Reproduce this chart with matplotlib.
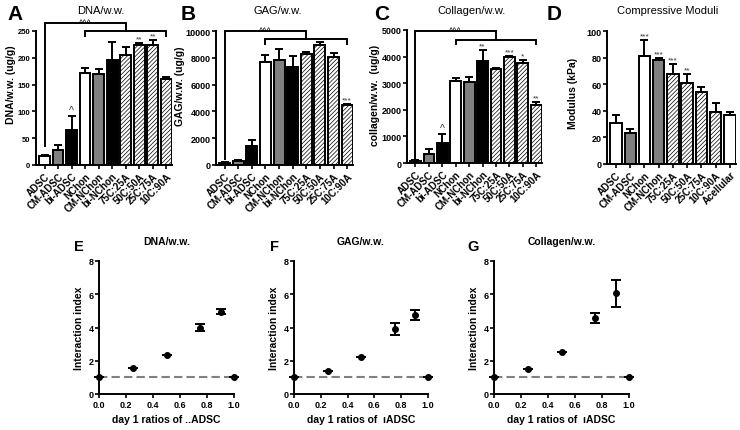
import matplotlib
matplotlib.use('Agg')
import matplotlib.pyplot as plt
import numpy as np

plt.rcParams['font.family'] = ['Liberation Sans', 'DejaVu Sans']
plt.rcParams['hatch.linewidth'] = 0.5
plt.rcParams['hatch.color'] = '#222222'

# ---------------- data ----------------
groups_abc = ['ADSC', 'CM-ADSC', 'bi-ADSC', 'NChon', 'CM-NChon', 'bi-NChon',
              '75C:25A', '50C:50A', '25C:75A', '10C:90A']
dna_mean = [17, 28, 66, 172, 170, 195, 206, 223, 223, 160]
dna_err = [1.5, 10, 26, 9, 9, 34, 14, 5, 10, 5]
dna_sig = ['', '', '^', '', '', '', '', '**', '**', '']

gag_mean = [150, 300, 1450, 7700, 7850, 7300, 8250, 8950, 8050, 4450]
gag_err = [40, 100, 450, 500, 800, 800, 150, 200, 300, 100]
gag_sig = ['', '', '', '', '', '', '', '', '', '***']

col_mean = [80, 320, 750, 3070, 3060, 3830, 3530, 3980, 3750, 2180]
col_err = [20, 220, 350, 120, 160, 400, 60, 40, 110, 120]
col_sig = ['', '', '^', '', '', '**', '', '***', '*', '**']

groups_d = ['ADSC', 'CM-ADSC', 'NChon', 'CM-NChon', '75C:25A', '50C:50A',
            '25C:75A', '10C:90A', 'Acellular']
mod_mean = [31, 23, 81, 78, 68, 61, 54, 39, 37]
mod_err = [6, 3, 12, 1.5, 7, 7, 4, 7, 2]
mod_sig = ['', '', '***', '***', '***', '**', '', '', '']

ratio_x = [0.0, 0.25, 0.5, 0.75, 0.9, 1.0]
dna_ii = [1.0, 1.55, 2.35, 4.0, 4.95, 1.0]
dna_ii_err = [0, 0, 0, 0.2, 0.15, 0]
gag_ii = [1.0, 1.4, 2.25, 3.9, 4.75, 1.0]
gag_ii_err = [0, 0, 0, 0.35, 0.3, 0]
col_ii = [1.0, 1.5, 2.55, 4.6, 6.05, 1.0]
col_ii_err = [0, 0, 0, 0.3, 0.8, 0]

W, H = 740, 431
fig = plt.figure(figsize=(W / 100, H / 100), dpi=100)


def add_ax(x0, y0, x1, y1):
    return fig.add_axes([x0 / W, 1 - y1 / H, (x1 - x0) / W, (y1 - y0) / H])


def ftext(x, y, s, **kw):
    fig.text(x / W, 1 - y / H, s, **kw)


def style_for(name):
    if name.startswith('CM-'):
        return dict(color='#808080', hatch=None)
    if name.startswith('bi-'):
        return dict(color='black', hatch=None)
    if 'C:' in name:
        return dict(color='white', hatch='////////')
    return dict(color='white', hatch=None)


def style_axes(ax, labelsize=6.5):
    for s in ['top', 'right']:
        ax.spines[s].set_visible(False)
    for s in ['left', 'bottom']:
        ax.spines[s].set_linewidth(1.4)
    ax.tick_params(width=1.2, length=3, labelsize=labelsize, pad=1)
    for lab in ax.get_yticklabels() + ax.get_xticklabels():
        lab.set_fontweight('bold')


def bar_panel(ax, names, mean, err, sig, ymax, yticks, ysize=6.5):
    x = np.arange(len(names))
    for i, n in enumerate(names):
        st = style_for(n)
        ax.bar(x[i], mean[i], width=0.8, color=st['color'], edgecolor='black',
               linewidth=1.4, hatch=st['hatch'], zorder=2)
    ax.errorbar(x, mean, yerr=[np.zeros(len(err)), err], fmt='none',
                ecolor='black', elinewidth=1.4, capsize=3, capthick=1.4, zorder=3)
    for i, s in enumerate(sig):
        if s:
            ax.text(x[i], mean[i] + err[i] + ymax * 0.005, s, ha='center', va='bottom',
                    fontsize=6 if s != '^' else 7.5, color='#333333', zorder=4)
    ax.set_xlim(-0.63, len(names) - 0.57)
    ax.set_ylim(0, ymax)
    ax.set_yticks(yticks)
    ax.set_xticks(x)
    ax.set_xticklabels(names, rotation=45, ha='right', rotation_mode='anchor')
    style_axes(ax, labelsize=ysize)
    for lab in ax.get_xticklabels():
        lab.set_fontsize(7)


def brackets(ax, top_y, left_end, low_y, low_leg, txt_y):
    kw = dict(color='black', lw=1.4, clip_on=False, zorder=5, solid_joinstyle='miter')
    ax.plot([0, 0, 6, 6], [left_end, top_y, top_y, low_y], **kw)
    ax.plot([3, 3, 9, 9], [low_leg, low_y, low_y, low_leg], **kw)
    ax.text(3, txt_y, '^^^', ha='center', va='baseline', fontsize=6.5, clip_on=False)


axA = add_ax(36, 32, 172, 166)
bar_panel(axA, groups_abc, dna_mean, dna_err, dna_sig, 250, [0, 50, 100, 150, 200, 250],
          ysize=5.5)
brackets(axA, 265, 35, 250, 241, 261)

axB = add_ax(216, 32, 353, 166)
bar_panel(axB, groups_abc, gag_mean, gag_err, gag_sig, 10000,
          [0, 2000, 4000, 6000, 8000, 10000])
brackets(axB, 10000, 450, 9400, 9030, 9850)

axC = add_ax(407, 31, 542, 164)
bar_panel(axC, groups_abc, col_mean, col_err, col_sig, 5000,
          [0, 1000, 2000, 3000, 4000, 5000])
brackets(axC, 4950, 150, 4635, 4470, 4880)

axD = add_ax(607, 32, 736, 165)
bar_panel(axD, groups_d, mod_mean, mod_err, mod_sig, 100, [0, 20, 40, 60, 80, 100])

# y labels of top panels
for x, y, s in [(11, 85, 'DNA/w.w. (ug/g)'), (180, 86, 'GAG/w.w. (ug/g)'),
                (375, 95, 'collagen/w.w.  (ug/g)'), (573, 93, 'Modulus (kPa)')]:
    ftext(x, y, s, fontsize=7.5, fontweight='bold', rotation=90, ha='center', va='center')

# top panel letters and titles
for x, s in [(7, 'A'), (181, 'B'), (374, 'C'), (547, 'D')]:
    ftext(x, 15, s, fontsize=15, fontweight='bold', va='center', ha='left')
for x, s in [(101, 'DNA/w.w.'), (278, 'GAG/w.w.'), (472, 'Collagen/w.w.'),
             (668, 'Compressive Moduli')]:
    ftext(x, 11, s, fontsize=8, ha='center', va='center')


def ii_panel(ax, yv, ye, title, xlabel):
    ax.plot([0, 1], [1, 1], color='#808080', lw=1.5, ls=(0, (4, 2)), zorder=1)
    ax.errorbar(ratio_x, yv, yerr=ye, fmt='o', color='black', ms=4,
                elinewidth=1.4, capsize=3.5, capthick=1.4, clip_on=False, zorder=3)
    ax.set_xlim(0, 1)
    ax.set_ylim(0, 8)
    ax.set_xticks([0, 0.2, 0.4, 0.6, 0.8, 1.0])
    ax.set_xticklabels(['0.0', '0.2', '0.4', '0.6', '0.8', '1.0'])
    ax.set_yticks([0, 2, 4, 6, 8])
    ax.set_ylabel('Interaction index', fontsize=7.5, fontweight='bold', labelpad=3)
    ax.set_xlabel(xlabel, fontsize=7.5, fontweight='bold', labelpad=4)
    ax.set_title(title, fontsize=7.5, fontweight='bold', pad=12)
    style_axes(ax, labelsize=6.5)


axE = add_ax(99, 262, 234, 395)
ii_panel(axE, dna_ii, dna_ii_err, 'DNA/w.w.', 'day 1 ratios of ..ADSC')
axF = add_ax(294, 262, 428, 395)
ii_panel(axF, gag_ii, gag_ii_err, 'GAG/w.w.', 'day 1 ratios of  ıADSC')
axG = add_ax(494, 262, 629, 395)
ii_panel(axG, col_ii, col_ii_err, 'Collagen/w.w.', 'day 1 ratios of  ıADSC')

for x, s in [(74, 'E'), (270, 'F'), (467, 'G')]:
    ftext(x, 247, s, fontsize=10.5, fontweight='bold', va='center', ha='left')

fig.savefig('out.png', dpi=100)
